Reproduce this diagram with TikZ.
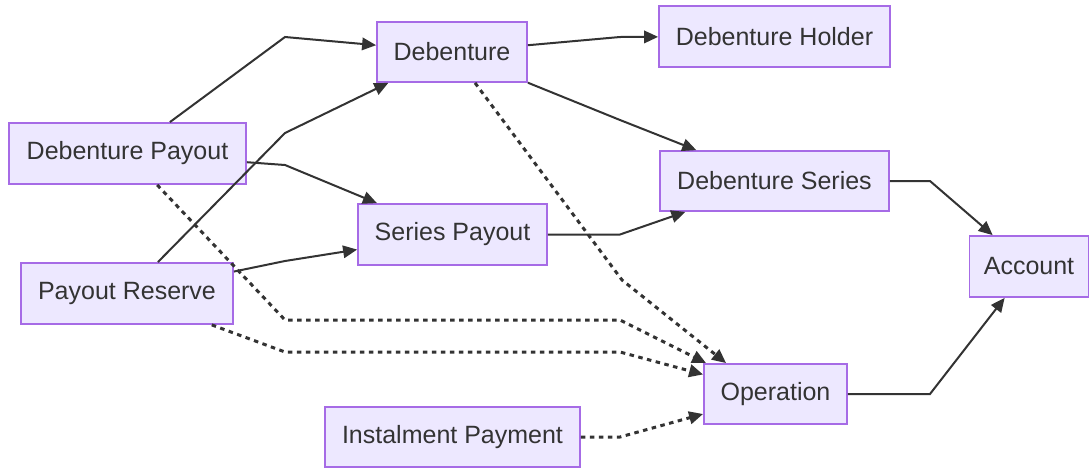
\documentclass[tikz,border=0pt]{standalone}
\usepackage{fontspec}
\setmainfont{Liberation Sans}
\usetikzlibrary{arrows.meta}
\definecolor{boxfill}{HTML}{EDE8FF}
\definecolor{boxline}{HTML}{A66BE6}
\definecolor{ink}{HTML}{333333}
\tikzset{
  entity/.style={draw=boxline, fill=boxfill, line width=1.8pt, rectangle,
    inner sep=0pt, text=ink, font=\fontsize{25}{30}\selectfont},
  headtip/.style={-{Triangle[length=14pt,width=12.5pt]}},
  link/.style={draw=ink, line width=2pt, headtip},
  weak/.style={draw=ink, line width=3pt, dash pattern=on 4.5pt off 4.5pt, headtip},
}
\begin{document}
\begin{tikzpicture}[x=1pt, y=-1pt]
\useasboundingbox (0,0) rectangle (1090,469);

% entities
\node[entity, minimum width=237pt, minimum height=61pt] (dp) at (127.5,153.5) {Debenture Payout};
\node[entity, minimum width=150pt, minimum height=60pt] (d)  at (452,52)      {Debenture};
\node[entity, minimum width=231pt, minimum height=61pt] (dh) at (774.5,36.5)  {Debenture Holder};
\node[entity, minimum width=229pt, minimum height=60pt] (ds) at (774.5,181)   {Debenture Series};
\node[entity, minimum width=189pt, minimum height=61pt] (sp) at (452.5,234.5) {Series Payout};
\node[entity, minimum width=212pt, minimum height=61pt] (pr) at (127,293.5)   {Payout Reserve};
\node[entity, minimum width=119pt, minimum height=61pt] (ac) at (1029,266.5)  {Account};
\node[entity, minimum width=143pt, minimum height=60pt] (op) at (775.5,394)   {Operation};
\node[entity, minimum width=255pt, minimum height=60pt] (ip) at (452.5,437)   {Instalment Payment};

% solid relations
\draw[link] (dp) -- (285,37) -- (d);
\draw[link] (pr) -- (285,133) -- (d);
\draw[link] (dp) -- (285,165) -- (sp);
\draw[link] (pr) -- (285,261) -- (sp);
\draw[link] (d) -- (620,37) -- (dh);
\draw[link] (d) -- (620,120) -- (ds);
\draw[link] (sp) -- (620,234.5) -- (ds);
\draw[link] (ds) -- (930,181) -- (ac);
\draw[link] (op) -- (930,394) -- (ac);

% dotted relations
\draw[weak] (d) -- (622,280) -- ([xshift=23pt]op.north west);
\draw[weak] (dp) -- (285,320) -- (620,320) -- ([xshift=3pt]op.north west);
\draw[weak] (pr) -- (285,352) -- (620,352) -- (op);
\draw[weak] (ip) -- (620,437) -- (op);
\end{tikzpicture}
\end{document}
